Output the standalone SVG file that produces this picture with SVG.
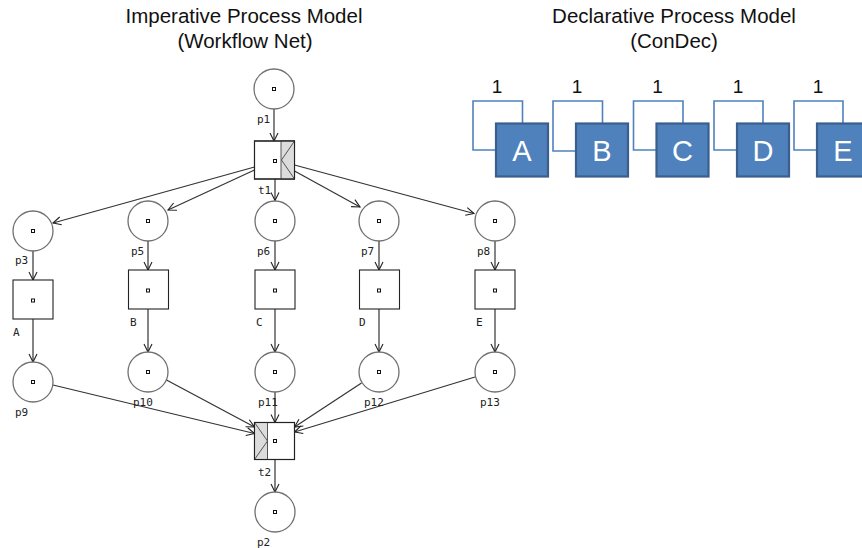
<svg xmlns="http://www.w3.org/2000/svg" width="862" height="548" viewBox="0 0 862 548">
<style>
.title{font-family:"Liberation Sans","Open Sans",sans-serif;font-size:20.5px;fill:#111;text-anchor:middle}
.place{fill:#fff;stroke:#707070;stroke-width:1.3}
.trans{fill:#fff;stroke:#222;stroke-width:1.1}
.gray{fill:#dcdcdc;stroke:#555;stroke-width:1}
.tok{fill:#fff;stroke:#111;stroke-width:1}
.lbl{font-family:"DejaVu Sans Mono","Liberation Mono",monospace;font-size:11px;fill:#222}
.arc{fill:none;stroke:#333;stroke-width:1.2;marker-end:url(#ah)}
.loop{fill:none;stroke:#4F81BD;stroke-width:1.6}
.act{fill:#4F81BD;stroke:#3A5F8C;stroke-width:2.2}
.actt{font-family:"Liberation Sans","Open Sans",sans-serif;font-size:29px;fill:#fff;text-anchor:middle}
.card{font-family:"Liberation Sans","Open Sans",sans-serif;font-size:19px;fill:#111;text-anchor:middle}
</style>
<defs>
<marker id="ah" markerUnits="userSpaceOnUse" markerWidth="10" markerHeight="10" refX="8" refY="4" orient="auto" overflow="visible">
<path d="M0,0 L8,4 L0,8" fill="none" stroke="#222" stroke-width="1.1"/>
</marker>
</defs>
<text class="title" x="244" y="23">Imperative Process Model</text>
<text class="title" x="245" y="48">(Workflow Net)</text>
<text class="title" x="674" y="23">Declarative Process Model</text>
<text class="title" x="674" y="48">(ConDec)</text>

<g id="connectors">
<line class="arc" x1="274" y1="109" x2="274" y2="141"/>
<line class="arc" x1="254.5" y1="167" x2="53" y2="223"/>
<line class="arc" x1="254.5" y1="170" x2="168" y2="210"/>
<line class="arc" x1="275" y1="179" x2="275" y2="200.5"/>
<line class="arc" x1="294.5" y1="171" x2="360" y2="207"/>
<line class="arc" x1="294.5" y1="165" x2="474" y2="213.5"/>
<line class="arc" x1="33" y1="251" x2="33" y2="280"/>
<line class="arc" x1="33" y1="319" x2="33" y2="362"/>
<line class="arc" x1="148" y1="241" x2="148" y2="270"/>
<line class="arc" x1="148" y1="309" x2="148" y2="352"/>
<line class="arc" x1="275" y1="241" x2="275" y2="270"/>
<line class="arc" x1="275" y1="309" x2="275" y2="352"/>
<line class="arc" x1="379" y1="241" x2="379" y2="270"/>
<line class="arc" x1="379" y1="309" x2="379" y2="352"/>
<line class="arc" x1="495" y1="241" x2="495" y2="270"/>
<line class="arc" x1="495" y1="309" x2="495" y2="352"/>
<line class="arc" x1="53" y1="385" x2="254.5" y2="433.5"/>
<line class="arc" x1="166.5" y1="380" x2="254.5" y2="427"/>
<line class="arc" x1="275" y1="392" x2="275" y2="422.5"/>
<line class="arc" x1="361.5" y1="383" x2="294.5" y2="427"/>
<line class="arc" x1="475" y1="377" x2="294.5" y2="432"/>
<line class="arc" x1="275" y1="459.5" x2="275" y2="492"/>
</g>

<g id="p1"><circle class="place" cx="274" cy="89" r="20"/><rect class="tok" x="272.5" y="87.5" width="3" height="3"/><text class="lbl" x="257" y="123">p1</text></g>
<g id="t1"><rect class="trans" x="254.5" y="141" width="40" height="38"/><rect class="gray" x="281" y="141" width="13.5" height="38"/><polyline points="294.5,141 281.5,160 294.5,179" fill="none" stroke="#555" stroke-width="1"/><rect class="trans" x="254.5" y="141" width="40" height="38" fill="none" style="fill:none"/><rect class="tok" x="273.5" y="159.5" width="3" height="3"/><text class="lbl" x="258" y="194">t1</text></g>

<g id="p3"><circle class="place" cx="33" cy="231" r="20"/><rect class="tok" x="31.5" y="229.5" width="3" height="3"/><text class="lbl" x="15" y="264">p3</text></g>
<g id="p5"><circle class="place" cx="148" cy="221" r="20"/><rect class="tok" x="146.5" y="219.5" width="3" height="3"/><text class="lbl" x="131" y="255">p5</text></g>
<g id="p6"><circle class="place" cx="275" cy="221" r="20"/><rect class="tok" x="273.5" y="219.5" width="3" height="3"/><text class="lbl" x="257" y="255">p6</text></g>
<g id="p7"><circle class="place" cx="379" cy="221" r="20"/><rect class="tok" x="377.5" y="219.5" width="3" height="3"/><text class="lbl" x="361" y="255">p7</text></g>
<g id="p8"><circle class="place" cx="495" cy="221" r="20"/><rect class="tok" x="493.5" y="219.5" width="3" height="3"/><text class="lbl" x="477" y="255">p8</text></g>

<g id="A"><rect class="trans" x="13" y="280" width="40" height="39"/><rect class="tok" x="31.5" y="299" width="3" height="3"/><text class="lbl" x="13" y="336">A</text></g>
<g id="B"><rect class="trans" x="128.5" y="270" width="40" height="39"/><rect class="tok" x="146.5" y="289" width="3" height="3"/><text class="lbl" x="130" y="326">B</text></g>
<g id="C"><rect class="trans" x="255" y="270" width="40" height="39"/><rect class="tok" x="273.5" y="289" width="3" height="3"/><text class="lbl" x="256" y="326">C</text></g>
<g id="D"><rect class="trans" x="359.5" y="270" width="40" height="39"/><rect class="tok" x="377.5" y="289" width="3" height="3"/><text class="lbl" x="359" y="326">D</text></g>
<g id="E"><rect class="trans" x="475" y="270" width="40" height="39"/><rect class="tok" x="493.5" y="289" width="3" height="3"/><text class="lbl" x="476" y="326">E</text></g>

<g id="p9"><circle class="place" cx="33" cy="382" r="20"/><rect class="tok" x="31.5" y="380.5" width="3" height="3"/><text class="lbl" x="15" y="416">p9</text></g>
<g id="p10"><circle class="place" cx="148" cy="372" r="20"/><rect class="tok" x="146.5" y="370.5" width="3" height="3"/><text class="lbl" x="133" y="406">p10</text></g>
<g id="p11"><circle class="place" cx="275" cy="372" r="20"/><rect class="tok" x="273.5" y="370.5" width="3" height="3"/><text class="lbl" x="258" y="406">p11</text></g>
<g id="p12"><circle class="place" cx="379" cy="372" r="20"/><rect class="tok" x="377.5" y="370.5" width="3" height="3"/><text class="lbl" x="364" y="406">p12</text></g>
<g id="p13"><circle class="place" cx="495" cy="372" r="20"/><rect class="tok" x="493.5" y="370.5" width="3" height="3"/><text class="lbl" x="480" y="406">p13</text></g>

<g id="t2"><rect class="trans" x="254.5" y="422.5" width="40" height="37"/><rect class="gray" x="254.5" y="422.5" width="13" height="37"/><polyline points="254.5,422.5 267.5,441 254.5,459.5" fill="none" stroke="#555" stroke-width="1"/><rect x="254.5" y="422.5" width="40" height="37" style="fill:none;stroke:#222;stroke-width:1.1"/><rect class="tok" x="273.5" y="439.5" width="3" height="3"/><text class="lbl" x="258" y="476">t2</text></g>
<g id="p2"><circle class="place" cx="275" cy="512" r="20"/><rect class="tok" x="273.5" y="510.5" width="3" height="3"/><text class="lbl" x="257" y="546">p2</text></g>

<g id="dA"><polyline class="loop" points="522.5,123.5 522.5,101 473,101 473,150 496,150"/><rect class="act" x="496" y="123.5" width="52" height="53"/><text class="actt" x="522" y="161">A</text><text class="card" x="497" y="93">1</text></g>
<g id="dB"><polyline class="loop" points="602.5,123.5 602.5,101 553,101 553,151 576,151"/><rect class="act" x="576" y="123.5" width="52" height="53"/><text class="actt" x="602" y="161">B</text><text class="card" x="577" y="93">1</text></g>
<g id="dC"><polyline class="loop" points="683,123.5 683,101 633.5,101 633.5,150 656.5,150"/><rect class="act" x="656.5" y="123.5" width="52" height="53"/><text class="actt" x="682.5" y="161">C</text><text class="card" x="657.5" y="93">1</text></g>
<g id="dD"><polyline class="loop" points="763,123.5 763,101 714,101 714,150 737,150"/><rect class="act" x="737" y="123.5" width="52" height="53"/><text class="actt" x="763" y="161">D</text><text class="card" x="738" y="93">1</text></g>
<g id="dE"><polyline class="loop" points="843,123.5 843,101 794,101 794,150 817,150"/><rect class="act" x="817" y="123.5" width="52" height="53"/><text class="actt" x="843" y="161">E</text><text class="card" x="818" y="93">1</text></g>
</svg>
